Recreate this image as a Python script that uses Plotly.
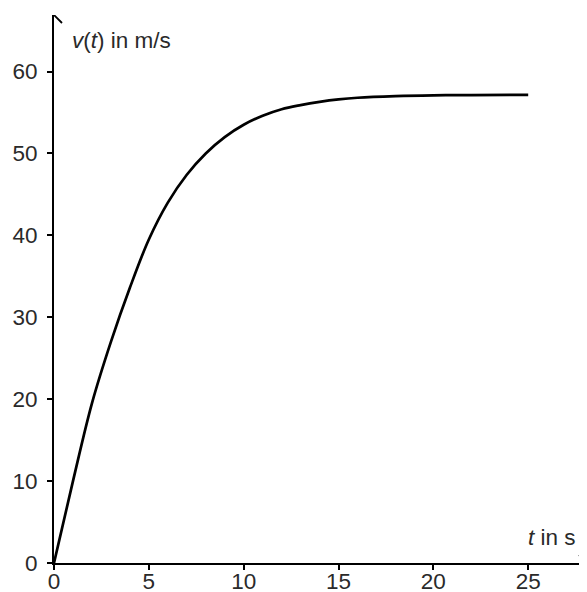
import plotly.graph_objects as go

# data
t_values = [0, 1, 2, 3, 4, 5, 6, 7, 8, 9, 10, 11, 12, 13, 14, 15, 16, 18, 20, 22, 25]
v_values = [0, 10.0, 19.5, 27.0, 33.6, 39.5, 44.0, 47.4, 50.0, 52.0, 53.5, 54.6, 55.4, 55.9, 56.3, 56.6, 56.8, 57.0, 57.1, 57.13, 57.15]
x_ticks = [0, 5, 10, 15, 20, 25]
y_ticks = [0, 10, 20, 30, 40, 50, 60]
x_title = "<i>t</i> in s"
y_title = "<i>v</i>(<i>t</i>) in m/s"

X_MAX = 28.1
Y_MAX = 66.9
FONT = dict(family="Liberation Sans, Arial, sans-serif", size=22.5, color="#2a2a2a")

fig = go.Figure()
fig.add_trace(go.Scatter(
    x=t_values, y=v_values, mode="lines",
    line=dict(color="black", width=2.7, shape="spline", smoothing=1.0),
    hoverinfo="skip", showlegend=False, cliponaxis=False,
))

# the page body has an 8px margin: the figure is sized and placed to compensate
fig.update_layout(
    width=579, height=584,
    margin=dict(l=46, r=0, t=7, b=29),
    plot_bgcolor="white", paper_bgcolor="white",
    font=FONT,
    showlegend=False,
    xaxis=dict(
        range=[0, X_MAX], tickvals=x_ticks, ticktext=[str(v) for v in x_ticks],
        showgrid=False, zeroline=False, showline=True, linecolor="black", linewidth=1.8,
        ticks="outside", ticklen=5, tickwidth=1.5, tickcolor="black",
        tickfont=FONT, fixedrange=True, ticklabelstandoff=-8, automargin=False,
    ),
    yaxis=dict(
        range=[0, Y_MAX], tickvals=y_ticks, ticktext=[str(v) for v in y_ticks],
        showgrid=False, zeroline=False, showline=True, linecolor="black", linewidth=1.8,
        ticks="outside", ticklen=5, tickwidth=1.5, tickcolor="black",
        tickfont=FONT, fixedrange=True, ticklabelstandoff=5, automargin=False,
    ),
    shapes=[
        dict(type="path", xref="x", yref="y", xsizemode="pixel", ysizemode="pixel",
             xanchor=0, yanchor=Y_MAX, path="M -8,-8 L 0,0 L 8,-8",
             line=dict(color="black", width=1.8)),
        dict(type="path", xref="x", yref="y", xsizemode="pixel", ysizemode="pixel",
             xanchor=X_MAX, yanchor=0, path="M -8,8 L 0,0 L -8,-8",
             line=dict(color="black", width=1.8)),
    ],
    annotations=[
        dict(x=0.84, y=63.8, xref="x", yref="y", text=y_title, showarrow=False,
             xanchor="left", yanchor="middle", font=FONT),
        dict(x=27.6, y=3.1, xref="x", yref="y", text=x_title, showarrow=False,
             xanchor="right", yanchor="middle", font=FONT),
    ],
)

fig.write_html("out.html")
